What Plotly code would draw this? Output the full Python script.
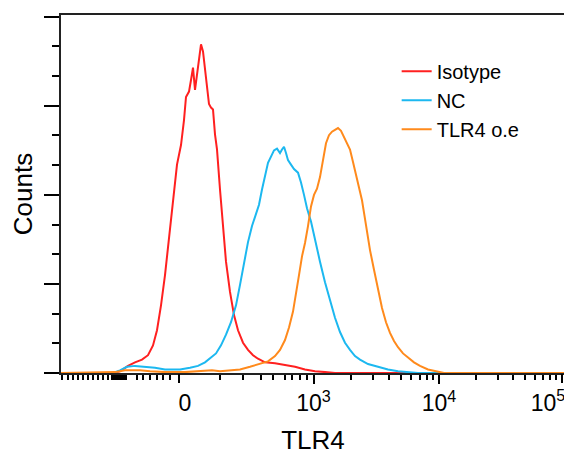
import plotly.graph_objects as go

# x: display channel (biexponential scale), y: counts
iso_x = [0, 104, 118, 134, 148, 162, 174, 184, 192, 200, 208, 216, 224, 232, 240, 246, 250, 256, 260, 264, 268, 272, 276, 280, 284, 288, 292, 296, 300, 304, 308, 312, 318, 324, 330, 338, 346, 354, 364, 374, 384, 394, 408, 428, 448, 468, 488, 508, 528, 548, 1008]
iso_y = [0, 0, 2, 8, 12, 15, 20, 31, 48, 76, 110, 149, 194, 234, 256, 284, 310, 316, 329, 343, 318, 335, 354, 369, 361, 341, 318, 302, 298, 296, 268, 251, 206, 161, 125, 91, 65, 48, 34, 26, 20, 16, 12, 11, 9, 7, 4, 2, 1, 0, 0]

nc_x = [0, 104, 118, 132, 148, 168, 188, 208, 238, 258, 274, 288, 300, 310, 320, 330, 340, 350, 358, 366, 374, 382, 390, 396, 402, 408, 414, 420, 426, 432, 438, 442, 446, 450, 454, 460, 466, 474, 480, 486, 492, 500, 508, 518, 528, 538, 548, 558, 568, 578, 588, 598, 614, 634, 654, 674, 694, 714, 1008]
nc_y = [0, 0, 3, 7, 8, 7, 6, 4, 4, 6, 8, 12, 17, 22, 31, 43, 57, 76, 99, 122, 147, 165, 179, 189, 206, 223, 236, 243, 250, 252, 247, 251, 254, 247, 239, 234, 229, 225, 214, 200, 185, 170, 149, 125, 102, 82, 62, 46, 34, 26, 19, 15, 10, 7, 4, 2, 1, 0, 0]

oe_x = [0, 108, 128, 158, 178, 208, 248, 288, 302, 318, 338, 358, 378, 398, 414, 428, 438, 448, 456, 464, 470, 476, 482, 488, 494, 500, 506, 512, 518, 524, 530, 536, 542, 548, 554, 560, 566, 572, 578, 584, 590, 596, 602, 610, 618, 626, 634, 642, 650, 658, 666, 674, 684, 694, 706, 718, 734, 750, 766, 1008]
oe_y = [0, 1, 3, 3, 2, 1, 1, 2, 3, 2, 3, 4, 7, 10, 13, 19, 26, 37, 51, 69, 88, 110, 131, 146, 165, 187, 200, 207, 220, 239, 258, 267, 271, 273, 275, 272, 265, 259, 251, 237, 222, 209, 194, 166, 138, 116, 93, 73, 57, 45, 36, 29, 22, 17, 12, 8, 4, 2, 0, 0]

series_names = ["Isotype", "NC", "TLR4 o.e"]
series_colors = ["#ff2020", "#1cb8f0", "#ff8a1c"]

x_major_vals = [505, 756]
x_major_text = ["10<sup>3</sup>", "10<sup>4</sup>"]
x_zero_vals = [236]
x_zero_text = ["0"]
x_edge_vals = [1002]
x_edge_text = ["10<sup>5</sup>"]
x_minor_neg = [1.4, 13.4, 23.4, 33.4, 43.4, 53.4, 63.4, 73.4, 83.4, 93.4,
               102, 106, 110, 114, 118, 122, 126, 130,
               151.4, 164.6, 178, 191.4, 204.6, 218]
x_minor_low = [318, 364, 400, 424, 448, 462, 478, 492]
x_minor_d3 = [580.6, 624.8, 656.1, 680.4, 700.3, 717.1, 731.7, 744.5]
x_minor_d4 = [830, 873.4, 904.1, 928, 947.4, 963.9, 978.2, 990.7]

fig = go.Figure()
for xs, ys, name, color in zip([iso_x, nc_x, oe_x], [iso_y, nc_y, oe_y], series_names, series_colors):
    fig.add_trace(go.Scatter(x=xs, y=ys, mode="lines", name=name, legendgroup=name,
                             line=dict(color=color, width=2)))
# invisible traces on the overlaying axes so they are drawn
for ax in ["x2", "x3"]:
    fig.add_trace(go.Scatter(x=[0], y=[0], xaxis=ax, mode="lines", showlegend=False,
                             hoverinfo="skip", line=dict(width=0)))

font_family = "Liberation Sans, Arial, sans-serif"
tick_common = dict(range=[0, 1008], overlaying="x", side="bottom", anchor="y",
                   showgrid=False, zeroline=False, showline=False, automargin=False,
                   tickmode="array", ticks="outside", ticklen=9, tickwidth=2,
                   tickcolor="black", tickfont=dict(size=23), ticklabeloverflow="allow")
fig.update_layout(
    width=564, height=452,
    margin=dict(l=53, r=7, t=7, b=87),
    paper_bgcolor="white", plot_bgcolor="white",
    font=dict(family=font_family, color="black"),
    showlegend=True,
    legend=dict(x=0.666, y=0.897, xanchor="left", yanchor="top",
                font=dict(size=20, color="black"), bgcolor="rgba(0,0,0,0)",
                tracegroupgap=0, itemwidth=30),
    xaxis=dict(range=[0, 1008], showgrid=False, zeroline=False, automargin=False,
               showline=True, linecolor="#222", linewidth=1.5, mirror=True,
               tickmode="array", tickvals=x_major_vals, ticktext=x_major_text,
               ticks="outside", ticklen=9, tickwidth=2, tickcolor="black",
               tickfont=dict(size=23),
               minor=dict(tickmode="array",
                          tickvals=x_minor_neg + x_minor_low + x_minor_d3 + x_minor_d4,
                          ticks="outside", ticklen=5, tickwidth=1.5, tickcolor="black"),
               title=dict(text="TLR4", font=dict(size=26), standoff=15)),
    xaxis2=dict(tick_common, tickvals=x_edge_vals, ticktext=x_edge_text, ticklabelshift=-14),
    xaxis3=dict(tick_common, tickvals=x_zero_vals, ticktext=x_zero_text, ticklabelshift=6),
    yaxis=dict(range=[0, 402], showgrid=False, zeroline=False, automargin=False,
               showline=True, linecolor="#222", linewidth=1.5, mirror=True,
               tickmode="array", tickvals=[0, 100, 200, 300, 400],
               showticklabels=False,
               ticks="outside", ticklen=15, tickwidth=2, tickcolor="black",
               minor=dict(tickmode="array",
                          tickvals=[33.3, 66.7, 133.3, 166.7, 233.3, 266.7, 333.3, 366.7],
                          ticks="outside", ticklen=7, tickwidth=1.5, tickcolor="black"),
               title=dict(text="Counts", font=dict(size=26), standoff=4)),
)

fig.write_html("out.html")
